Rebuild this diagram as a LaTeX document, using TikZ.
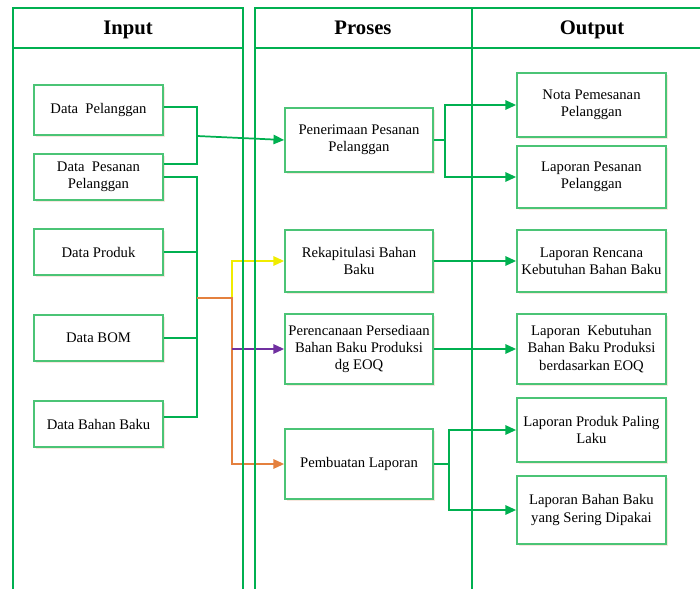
\documentclass[tikz,border=0pt]{standalone}
\usepackage{fontspec}
\setmainfont{Liberation Serif}
\usetikzlibrary{arrows.meta,shadows,calc}

\definecolor{framegreen}{RGB}{0,176,80}
\definecolor{boxgreen}{RGB}{75,196,118}
\definecolor{wiregreen}{RGB}{0,176,80}
\definecolor{flowyellow}{RGB}{240,236,0}
\definecolor{flowpurple}{RGB}{112,48,160}
\definecolor{floworange}{RGB}{228,128,62}
\definecolor{shadowtint}{RGB}{246,228,218}

\tikzset{
  panel/.style={draw=framegreen, line width=1.9pt},
  headtext/.style={font=\fontsize{15.5}{18}\selectfont\bfseries, anchor=base},
  procbox/.style n args={2}{draw=boxgreen, line width=1.3pt, fill=white,
    align=center, inner sep=2pt,
    font=\fontsize{11}{13}\selectfont,
    minimum width=#1*0.75pt, minimum height=#2*0.75pt,
    drop shadow={shadow xshift=1.3pt, shadow yshift=-1.3pt, fill=shadowtint, opacity=0.9}},
  wire/.style={draw=wiregreen, line width=1.3pt},
  tip/.style={-{Triangle[length=8pt,width=7pt]}},
  flow/.style={wire, tip},
  colourflow/.style={draw=#1, line width=1.3pt, tip},
}

\begin{document}
\begin{tikzpicture}[x=0.75pt, y=-0.75pt]
\useasboundingbox (0,0) rectangle (700,589);
\clip (0,0) rectangle (700,589);

% input column
\node[procbox={129}{50}] (dp)   at (98.5,110) {Data\ \ Pelanggan};
\node[procbox={129}{46}] (dpp)  at (98.5,177) {Data\ \ Pesanan\\Pelanggan};
\node[procbox={129}{46}] (dpr)  at (98.5,252) {Data Produk};
\node[procbox={129}{46}] (dbom) at (98.5,338) {Data BOM};
\node[procbox={129}{46}] (dbb)  at (98.5,424) {Data Bahan Baku};

% process column
\node[procbox={148}{64}] (pp)  at (359,140) {Penerimaan Pesanan\\Pelanggan};
\node[procbox={148}{62}] (rb)  at (359,261) {Rekapitulasi Bahan\\Baku};
\node[procbox={148}{70}] (ppb) at (359,349) {Perencanaan Persediaan\\Bahan Baku Produksi\\dg EOQ};
\node[procbox={148}{70}] (pl)  at (359,464) {Pembuatan Laporan};

% output column
\node[procbox={149}{64}] (nota) at (591.5,105) {Nota Pemesanan\\Pelanggan};
\node[procbox={149}{62}] (lps)  at (591.5,177) {Laporan Pesanan\\Pelanggan};
\node[procbox={149}{62}] (lrk)  at (591.5,261) {Laporan Rencana\\Kebutuhan Bahan Baku};
\node[procbox={149}{70}] (lkb)  at (591.5,349) {Laporan\ \ Kebutuhan\\Bahan Baku Produksi\\berdasarkan EOQ};
\node[procbox={149}{64}] (lpl)  at (591.5,430) {Laporan Produk Paling\\Laku};
\node[procbox={149}{68}] (lbb)  at (591.5,510) {Laporan Bahan Baku\\yang Sering Dipakai};

% junction points
\coordinate (busA)  at (197,136);
\coordinate (busB)  at (197,298);
\coordinate (split) at (232,298);
\coordinate (busC)  at (445,140);
\coordinate (busD)  at (449,464);

% customer data into order intake
\draw[wire] ($(dp.east)+(0,-3)$) -| (busA) |- ($(dpp.east)+(0,-13)$);
\draw[flow] (busA) -- (pp.west);

% remaining data gathered on one bus
\draw[wire] (dpp.east) -| (busB);
\draw[wire] (dpr.east) -| (busB);
\draw[wire] (dbom.east) -| (busB);
\draw[wire] ($(dbb.east)+(0,-7)$) -| (busB);

% coloured branches to the processes
\draw[colourflow=flowyellow] (split) |- (rb.west);
\draw[colourflow=floworange] (busB) -- (split) |- (pl.west);
\draw[colourflow=flowpurple] (split |- ppb.west) -- (ppb.west);

% processes to outputs
\draw[wire] (pp.east) -- (busC);
\draw[flow] (busC) |- (nota.west);
\draw[flow] (busC) |- (lps.west);
\draw[flow] (rb.east) -- (lrk.west);
\draw[flow] (ppb.east) -- (lkb.west);
\draw[wire] (pl.east) -- (busD);
\draw[flow] (busD) |- (lpl.west);
\draw[flow] (busD) |- (lbb.west);

% column frames and headers
\draw[panel] (13,8) rectangle (243,600);
\draw[panel] (13,48) -- (243,48);
\draw[panel] (710,8) -- (255,8) -- (255,600);
\draw[panel] (255,48) -- (710,48);
\draw[panel] (472,8) -- (472,600);

\node[headtext] (hin)  at (128,34) {Input};
\node[headtext] (hpro) at (363,34) {Proses};
\node[headtext] (hout) at (592,34) {Output};
\end{tikzpicture}
\end{document}
